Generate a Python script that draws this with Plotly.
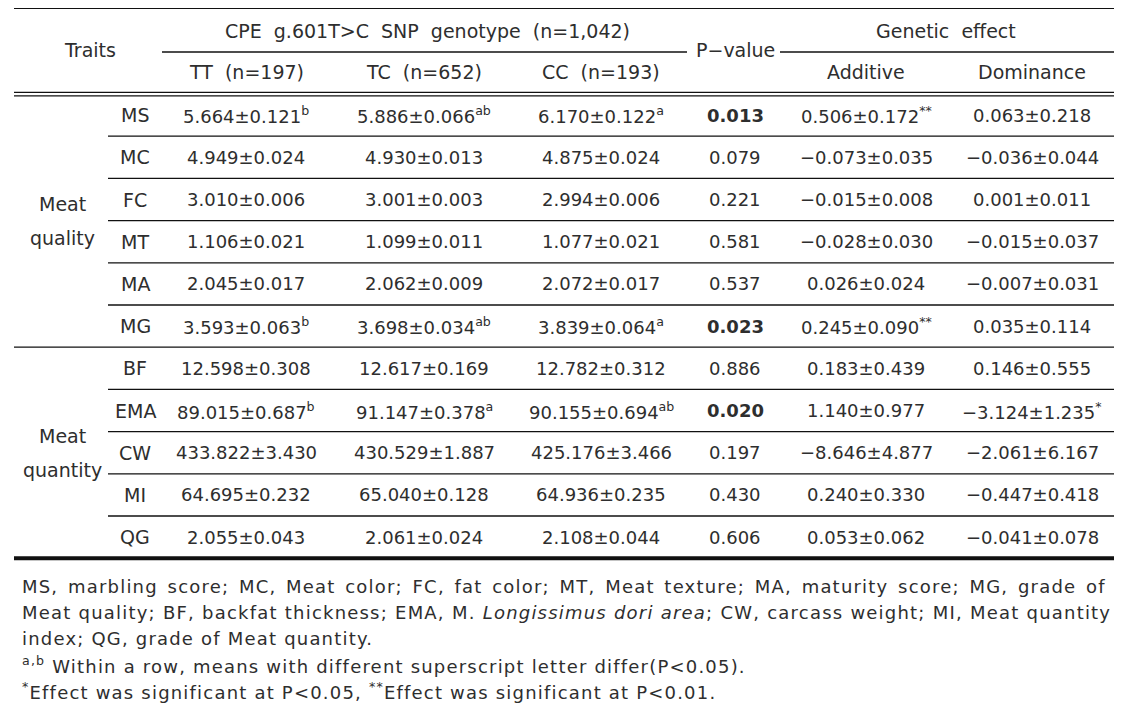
import plotly.graph_objects as go

# ---------------- data ----------------
traits = ["MS", "MC", "FC", "MT", "MA", "MG", "BF", "EMA", "CW", "MI", "QG"]
groups = [["Meat", "quality"], ["Meat", "quantity"]]
group_sizes = [6, 5]

tt_mean = [5.664, 4.949, 3.010, 1.106, 2.045, 3.593, 12.598, 89.015, 433.822, 64.695, 2.055]
tt_se = [0.121, 0.024, 0.006, 0.021, 0.017, 0.063, 0.308, 0.687, 3.430, 0.232, 0.043]
tt_sup = ["b", "", "", "", "", "b", "", "b", "", "", ""]

tc_mean = [5.886, 4.930, 3.001, 1.099, 2.062, 3.698, 12.617, 91.147, 430.529, 65.040, 2.061]
tc_se = [0.066, 0.013, 0.003, 0.011, 0.009, 0.034, 0.169, 0.378, 1.887, 0.128, 0.024]
tc_sup = ["ab", "", "", "", "", "ab", "", "a", "", "", ""]

cc_mean = [6.170, 4.875, 2.994, 1.077, 2.072, 3.839, 12.782, 90.155, 425.176, 64.936, 2.108]
cc_se = [0.122, 0.024, 0.006, 0.021, 0.017, 0.064, 0.312, 0.694, 3.466, 0.235, 0.044]
cc_sup = ["a", "", "", "", "", "a", "", "ab", "", "", ""]

p_values = [0.013, 0.079, 0.221, 0.581, 0.537, 0.023, 0.886, 0.020, 0.197, 0.430, 0.606]

add_est = [0.506, -0.073, -0.015, -0.028, 0.026, 0.245, 0.183, 1.140, -8.646, 0.240, 0.053]
add_se = [0.172, 0.035, 0.008, 0.030, 0.024, 0.090, 0.439, 0.977, 4.877, 0.330, 0.062]
add_sig = ["**", "", "", "", "", "**", "", "", "", "", ""]

dom_est = [0.063, -0.036, 0.001, -0.015, -0.007, 0.035, 0.146, -3.124, -2.061, -0.447, -0.041]
dom_se = [0.218, 0.044, 0.011, 0.037, 0.031, 0.114, 0.555, 1.235, 6.167, 0.418, 0.078]
dom_sig = ["", "", "", "", "", "", "", "*", "", "", ""]

header_traits = "Traits"
header_group = "CPE g.601T>C SNP genotype (n=1,042)"
header_cols = ["TT (n=197)", "TC (n=652)", "CC (n=193)"]
header_p = "P\u2212value"
header_effect = "Genetic effect"
header_effect_cols = ["Additive", "Dominance"]

footnotes = [
    "MS, marbling score; MC, Meat color; FC, fat color; MT, Meat texture; MA, maturity score; MG, grade of",
    "Meat quality; BF, backfat thickness; EMA, M. <i>Longissimus dori area</i>; CW, carcass weight; MI, Meat quantity",
    "index; QG, grade of Meat quantity.",
    "<sup>a,b</sup> Within a row, means with different superscript letter differ(P&lt;0.05).",
    "<sup>*</sup>Effect was significant at P&lt;0.05, <sup>**</sup>Effect was significant at P&lt;0.01.",
]
footnote_wordspacing = [2.8, 0.2, 0, 0, 0]

# ---------------- layout constants ----------------
OFF = 8  # page body margin offset
W, H = 1110, 695
FONT = "DejaVu Sans, Verdana, sans-serif"
TXT = "#2e2e2e"
LINE = "#111111"
XL, XR = 14, 1115
X_GROUP, X_TRAIT, X_TRAITS_HDR = 62, 135, 90
X_COLS = [246, 424, 601, 735, 866, 1032]
X_SUB = 108
ROW0, ROW_H = 94.0, 42.2
FOOT_Y0, FOOT_DY = 586, 26.3
FOOT_LS = 1.2


def fmt(v):
    s = f"{abs(v):.3f}"
    return ("\u2212" + s) if v < 0 else s


def cell(m, s, sup):
    t = f"{fmt(m)}\u00b1{fmt(s)}"
    if sup:
        t += f"<sup>{sup}</sup>"
    return t


def wide(s):
    return s.replace(" ", "&nbsp; ")


ann = []
shapes = []


def text(x, y, t, size=18, xanchor="center", color=TXT):
    ann.append(dict(x=x, y=y, xref="x", yref="y", text=t, showarrow=False,
                    xanchor=xanchor, yanchor="middle",
                    font=dict(family=FONT, size=size, color=color)))


def hline(x0, x1, y, w=1.3):
    shapes.append(dict(type="line", xref="x", yref="y", x0=x0, x1=x1, y0=y, y1=y,
                       line=dict(color=LINE, width=w)))


# header
HS = 19
text(X_TRAITS_HDR, 50, header_traits, HS)
text(427, 31, wide(header_group), HS)
text(946, 31, wide(header_effect), HS)
text(X_COLS[3], 50, header_p, HS)
for x, h in zip(X_COLS[:3], header_cols):
    text(x, 72, wide(h), HS)
for x, h in zip(X_COLS[4:], header_effect_cols):
    text(x, 72, h, HS)

hline(XL, XR, 7, 4)
hline(162, 687, 52)
hline(780, XR, 52)
hline(XL, XR, 92.4)
hline(XL, XR, 95.8)

# body
cols = [
    [cell(m, s, u) for m, s, u in zip(tt_mean, tt_se, tt_sup)],
    [cell(m, s, u) for m, s, u in zip(tc_mean, tc_se, tc_sup)],
    [cell(m, s, u) for m, s, u in zip(cc_mean, cc_se, cc_sup)],
    [(f"<b>{p:.3f}</b>" if p < 0.05 else f"{p:.3f}") for p in p_values],
    [cell(m, s, u) for m, s, u in zip(add_est, add_se, add_sig)],
    [cell(m, s, u) for m, s, u in zip(dom_est, dom_se, dom_sig)],
]

i = 0
for g, n in zip(groups, group_sizes):
    top = ROW0 + i * ROW_H
    gc = top + n * ROW_H / 2
    text(X_GROUP, gc - 17, g[0], HS)
    text(X_GROUP, gc + 17, g[1], HS)
    for k in range(n):
        yc = ROW0 + (i + 0.5) * ROW_H
        text(X_TRAIT, yc, traits[i], HS)
        for x, col in zip(X_COLS, cols):
            text(x, yc, col[i])
        ybot = ROW0 + (i + 1) * ROW_H
        if k < n - 1:
            hline(X_SUB, XR, ybot)
        i += 1
    ybot = ROW0 + i * ROW_H
    if i < len(traits):
        hline(XL, XR, ybot)
    else:
        hline(XL, XR, ybot, 4)

# footnotes
for j, (f, ws) in enumerate(zip(footnotes, footnote_wordspacing)):
    t = f'<span style="letter-spacing:{FOOT_LS}px;word-spacing:{ws}px">{f}</span>'
    text(20, FOOT_Y0 + j * FOOT_DY, t, size=18, xanchor="left")

fig = go.Figure()
fig.update_layout(
    width=W, height=H, margin=dict(l=0, r=0, t=0, b=0),
    paper_bgcolor="white", plot_bgcolor="white",
    xaxis=dict(range=[OFF, OFF + W], visible=False, fixedrange=True),
    yaxis=dict(range=[OFF + H, OFF], visible=False, fixedrange=True),
    annotations=ann, shapes=shapes, showlegend=False,
)
fig.write_html("out.html")
